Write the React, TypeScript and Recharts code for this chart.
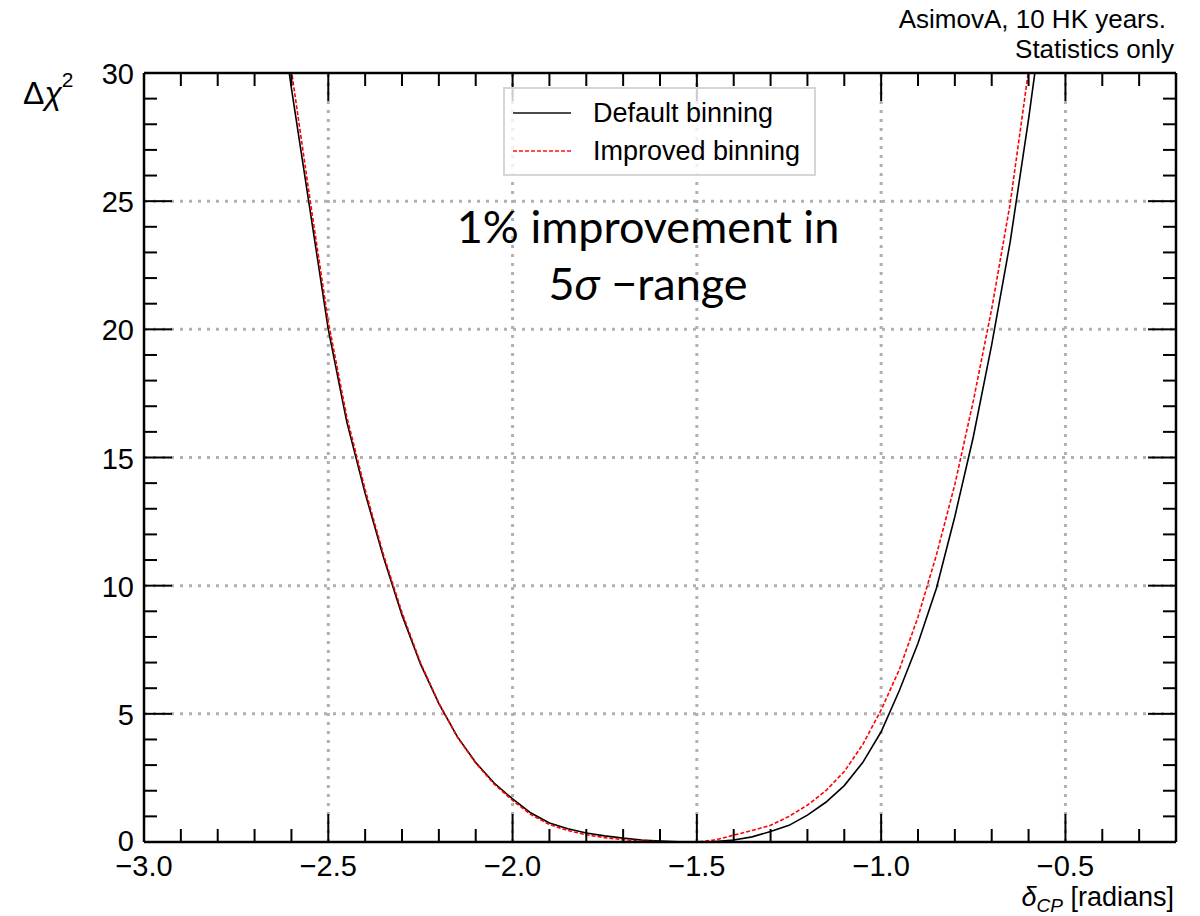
import React from "react";
import {
  Legend,
  Line,
  LineChart,
  ReferenceLine,
  XAxis,
  YAxis,
} from "recharts";

// delta_CP scan points (radians)
const deltaCP = [
  -2.65, -2.6, -2.55, -2.5, -2.45, -2.4, -2.35, -2.3, -2.25, -2.2, -2.15,
  -2.1, -2.05, -2.0, -1.95, -1.9, -1.85, -1.8, -1.75, -1.7, -1.65, -1.6,
  -1.55, -1.5, -1.45, -1.4, -1.35, -1.3, -1.25, -1.2, -1.15, -1.1, -1.05,
  -1.0, -0.95, -0.9, -0.85, -0.8, -0.75, -0.7, -0.65, -0.6, -0.55,
];

const defaultBinning = [
  34.5, 29.4, 24.7, 20.0, 16.4, 13.6, 11.1, 8.85, 6.95, 5.4, 4.11, 3.1, 2.3,
  1.68, 1.13, 0.74, 0.52, 0.35, 0.24, 0.15, 0.08, 0.04, 0.01, 0.0, 0.02, 0.08,
  0.2, 0.41, 0.65, 1.05, 1.55, 2.2, 3.1, 4.3, 5.93, 7.75, 9.9, 12.7, 15.8,
  19.4, 23.4, 28.2, 33.5,
];

const improvedBinning = [
  35.0, 30.1, 25.1, 20.3, 16.6, 13.75, 11.2, 8.95, 7.0, 5.42, 4.1, 3.08, 2.26,
  1.62, 1.07, 0.68, 0.45, 0.28, 0.17, 0.09, 0.04, 0.01, 0.0, 0.0, 0.08, 0.27,
  0.45, 0.65, 1.0, 1.44, 2.0, 2.75, 3.8, 5.15, 6.75, 8.78, 11.2, 13.95, 17.2,
  20.8, 24.9, 30.1, 35.0,
];

const xMajorTicks = [-3.0, -2.5, -2.0, -1.5, -1.0, -0.5];
const xMinorTicks = [
  -3.0, -2.9, -2.8, -2.7, -2.6, -2.5, -2.4, -2.3, -2.2, -2.1, -2.0, -1.9,
  -1.8, -1.7, -1.6, -1.5, -1.4, -1.3, -1.2, -1.1, -1.0, -0.9, -0.8, -0.7,
  -0.6, -0.5, -0.4, -0.3, -0.2,
];
const yMajorTicks = [0, 5, 10, 15, 20, 25, 30];
const yMinorTicks = [
  0, 1, 2, 3, 4, 5, 6, 7, 8, 9, 10, 11, 12, 13, 14, 15, 16, 17, 18, 19, 20,
  21, 22, 23, 24, 25, 26, 27, 28, 29, 30,
];
const xGrid = [-2.5, -2.0, -1.5, -1.0, -0.5];
const yGrid = [5, 10, 15, 20, 25];

const legendItems = [
  { name: "Default binning", color: "#000000", dash: undefined },
  { name: "Improved binning", color: "#ff0000", dash: "4 2" },
];

const data = deltaCP.map((d, i) => ({
  delta: d,
  def: defaultBinning[i],
  imp: improvedBinning[i],
}));

const W = 1200;
const H = 916;
const PLOT_LEFT = 144;
const PLOT_TOP = 73;
const PLOT_RIGHT = 1176;
const PLOT_BOTTOM = 842;
const AXIS = 1; // axes get 1px so recharts still draws them
const MAJOR_LEN = 28;
const MINOR_LEN = 13;
const FONT = '"Liberation Sans", Arial, Helvetica, sans-serif';
const GRID = { stroke: "#b0b0b0", strokeWidth: 3, strokeDasharray: "3 6" };
const FRAME = { stroke: "#000", strokeWidth: 2.5 };

const isMajor = (v: number, majors: number[]) =>
  majors.some((m) => Math.abs(m - v) < 1e-6);
const fmtX = (v: number) => v.toFixed(1).replace("-", "\u2212");

function BottomTick(props: any) {
  const { x, payload } = props;
  const major = isMajor(payload.value, xMajorTicks);
  return (
    <g>
      <line
        x1={x}
        x2={x}
        y1={PLOT_BOTTOM}
        y2={PLOT_BOTTOM - (major ? MAJOR_LEN : MINOR_LEN)}
        stroke="#000"
        strokeWidth={2}
      />
      {major && (
        <text
          x={x}
          y={PLOT_BOTTOM + 34}
          textAnchor="middle"
          fontFamily={FONT}
          fontSize={29}
          fill="#000"
        >
          {fmtX(payload.value)}
        </text>
      )}
    </g>
  );
}

function TopTick(props: any) {
  const { x, payload } = props;
  const major = isMajor(payload.value, xMajorTicks);
  return (
    <line
      x1={x}
      x2={x}
      y1={PLOT_TOP}
      y2={PLOT_TOP + (major ? MAJOR_LEN : MINOR_LEN)}
      stroke="#000"
      strokeWidth={2}
    />
  );
}

function LeftTick(props: any) {
  const { y, payload } = props;
  const major = isMajor(payload.value, yMajorTicks);
  return (
    <g>
      <line
        x1={PLOT_LEFT}
        x2={PLOT_LEFT + (major ? MAJOR_LEN : MINOR_LEN)}
        y1={y}
        y2={y}
        stroke="#000"
        strokeWidth={2}
      />
      {major && (
        <text
          x={PLOT_LEFT - 10}
          y={y + (payload.value === 0 ? 9 : 11)}
          textAnchor="end"
          fontFamily={FONT}
          fontSize={29}
          fill="#000"
        >
          {payload.value}
        </text>
      )}
    </g>
  );
}

function RightTick(props: any) {
  const { y, payload } = props;
  const major = isMajor(payload.value, yMajorTicks);
  return (
    <line
      x1={PLOT_RIGHT}
      x2={PLOT_RIGHT - (major ? MAJOR_LEN : MINOR_LEN)}
      y1={y}
      y2={y}
      stroke="#000"
      strokeWidth={2}
    />
  );
}

function LegendBox() {
  return (
    <div
      style={{
        boxSizing: "border-box",
        width: 313,
        height: 89,
        border: "2px solid #d6d6d6",
        background: "rgba(255,255,255,0.8)",
        fontFamily: FONT,
        fontSize: 27,
        color: "#000",
        padding: "5px 0 0 8px",
      }}
    >
      {legendItems.map((item) => (
        <div
          key={item.name}
          style={{ display: "flex", alignItems: "center", height: 38 }}
        >
          <svg width={60} height={10} style={{ marginRight: 20 }}>
            <line
              x1={0}
              x2={58}
              y1={5}
              y2={5}
              stroke={item.color}
              strokeOpacity={0.7}
              strokeWidth={2}
              strokeDasharray={item.dash}
            />
          </svg>
          <span>{item.name}</span>
        </div>
      ))}
    </div>
  );
}

export default function App() {
  return (
    <div
      style={{
        position: "absolute",
        left: 0,
        top: 0,
        width: W,
        height: H,
        background: "#fff",
      }}
    >
      <LineChart
        width={W}
        height={H}
        data={data}
        margin={{
          top: PLOT_TOP - AXIS,
          right: W - PLOT_RIGHT - AXIS,
          bottom: H - PLOT_BOTTOM - AXIS,
          left: PLOT_LEFT - AXIS,
        }}
      >
        <XAxis
          dataKey="delta"
          type="number"
          domain={[-3.0, -0.2]}
          ticks={xMinorTicks}
          interval={0}
          allowDataOverflow
          height={AXIS}
          tickLine={false}
          axisLine={FRAME}
          tick={<BottomTick />}
        />
        <XAxis
          xAxisId="top"
          orientation="top"
          dataKey="delta"
          type="number"
          domain={[-3.0, -0.2]}
          ticks={xMinorTicks}
          interval={0}
          allowDataOverflow
          height={AXIS}
          tickLine={false}
          axisLine={FRAME}
          tick={<TopTick />}
        />
        <YAxis
          type="number"
          domain={[0, 30]}
          ticks={yMinorTicks}
          interval={0}
          allowDataOverflow
          width={AXIS}
          tickLine={false}
          axisLine={FRAME}
          tick={<LeftTick />}
        />
        <YAxis
          yAxisId="right"
          orientation="right"
          type="number"
          domain={[0, 30]}
          ticks={yMinorTicks}
          interval={0}
          allowDataOverflow
          width={AXIS}
          tickLine={false}
          axisLine={FRAME}
          tick={<RightTick />}
        />
        {xGrid.map((v) => (
          <ReferenceLine key={`gx${v}`} x={v} {...GRID} />
        ))}
        {yGrid.map((v) => (
          <ReferenceLine key={`gy${v}`} y={v} {...GRID} />
        ))}
        <Legend
          layout="horizontal"
          verticalAlign="middle"
          align="center"
          content={() => <LegendBox />}
          wrapperStyle={{ left: 503, top: 87, width: 313, height: 89 }}
        />
        <Line
          type="linear"
          dataKey="def"
          name="Default binning"
          stroke="#000"
          strokeWidth={1.6}
          dot={false}
          isAnimationActive={false}
        />
        <Line
          type="linear"
          dataKey="imp"
          name="Improved binning"
          stroke="#ff0000"
          strokeWidth={1.6}
          strokeDasharray="4 2"
          dot={false}
          isAnimationActive={false}
        />
      </LineChart>
      <svg
        width={W}
        height={H}
        style={{ position: "absolute", left: 0, top: 0, pointerEvents: "none" }}
      >
        <g fontFamily={FONT} fill="#000">
          <text x={1166} y={28} fontSize={26} textAnchor="end">
            AsimovA, 10 HK years.
          </text>
          <text x={1174} y={58} fontSize={26} textAnchor="end">
            Statistics only
          </text>
          <text x={23} y={104} fontSize={32}>
            Δ<tspan fontStyle="italic">χ</tspan>
            <tspan fontSize={21} dy={-17}>
              2
            </tspan>
          </text>
          <text x={1174} y={906} fontSize={27} textAnchor="end">
            <tspan fontStyle="italic">δ</tspan>
            <tspan fontStyle="italic" fontSize={19} dy={6}>
              CP
            </tspan>
            <tspan dy={-6}> [radians]</tspan>
          </text>
        </g>
        <g fontFamily="Lato, 'Open Sans', sans-serif" fill="#000" fontSize={45}>
          <text x={648} y={243} textAnchor="middle">
            1% improvement in
          </text>
          <text x={648} y={300} textAnchor="middle">
            5<tspan fontStyle="italic">σ</tspan> −range
          </text>
        </g>
      </svg>
    </div>
  );
}
